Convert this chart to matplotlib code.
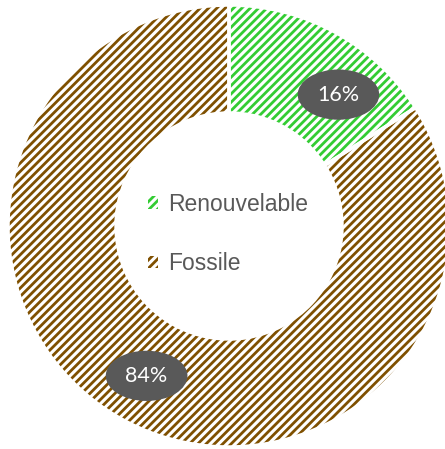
import matplotlib
matplotlib.use("Agg")
import matplotlib.pyplot as plt
import numpy as np
from matplotlib.patches import Patch, Wedge

categories = ["Renouvelable", "Fossile"]
values = [16, 84]
labels_pct = ["16%", "84%"]
colors = ["#33CC33", "#7F5000"]

plt.rcParams['hatch.linewidth'] = 2.0
HATCH = '////'

fig = plt.figure(figsize=(4.45, 4.49), dpi=100)
ax = fig.add_axes([0, 0, 1, 1])

cx, cy, R, r_in = 229, 223, 221, 113
wedges, _ = ax.pie(values, startangle=90, counterclock=False, radius=R, center=(cx, cy),
                   colors=['white', 'white'],
                   wedgeprops=dict(width=R - r_in, linewidth=0), frame=True)
for w, c in zip(wedges, colors):
    w.set_hatch(HATCH)
    w.set_edgecolor(c)
    w.set_linewidth(0)
# white separators
for w in wedges:
    ax.add_patch(Wedge(w.center, w.r, w.theta1, w.theta2, width=w.width,
                       fill=False, ec='white', lw=2.5))
ax.set_xlim(0, 445)
ax.set_ylim(0, 449)
ax.set_aspect('equal')
ax.axis('off')

# percentage labels
offsets = [-11, 0]
for w, lab, off in zip(wedges, labels_pct, offsets):
    ang = np.deg2rad((w.theta1 + w.theta2) / 2 + off)
    rr = 171
    ax.text(cx + rr * np.cos(ang), cy + rr * np.sin(ang), lab, ha='center', va='center',
            color='white', fontsize=15.5, family='Lato',
            bbox=dict(boxstyle='ellipse,pad=0.36', fc='#595959', ec='none'))

handles = [Patch(facecolor='white', edgecolor=c, hatch=HATCH, linewidth=0) for c in colors]
leg = ax.legend(handles, categories, loc='center', bbox_to_anchor=(228 / 445, 1 - 234 / 449),
                frameon=False, handlelength=0.45, handleheight=0.45,
                handletextpad=0.45, labelspacing=1.6, prop=dict(family='Liberation Sans', size=16.5))
for t in leg.get_texts():
    t.set_color('#595959')

fig.savefig("out.png", dpi=100)
